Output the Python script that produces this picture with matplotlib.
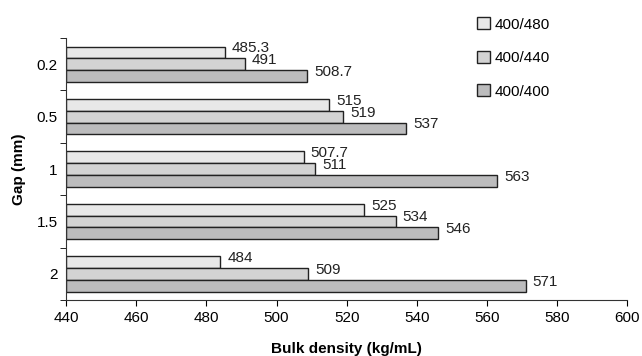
import matplotlib.pyplot as plt
import numpy as np

plt.rcParams['font.family'] = ['Liberation Sans', 'DejaVu Sans']

gaps = ['0.2', '0.5', '1', '1.5', '2']
series_names = ['400/480', '400/440', '400/400']
vals_480 = [485.3, 515, 507.7, 525, 484]
vals_440 = [491, 519, 511, 534, 509]
vals_400 = [508.7, 537, 563, 546, 571]
labels_480 = ['485.3', '515', '507.7', '525', '484']
labels_440 = ['491', '519', '511', '534', '509']
labels_400 = ['508.7', '537', '563', '546', '571']

colors = ['#e8e8e8', '#d3d3d3', '#bcbcbd']

fig = plt.figure(figsize=(6.42, 3.56), dpi=100)
ax = fig.add_axes([0.103, 0.157, 0.874, 0.736])

y = np.arange(len(gaps))
h = 0.225
base = 440
series = [(vals_480, labels_480), (vals_440, labels_440), (vals_400, labels_400)]
for i, (vals, labs) in enumerate(series):
    pos = y + (i - 1) * h
    ax.barh(pos, np.array(vals) - base, left=base, height=h, color=colors[i],
            edgecolor='#222222', linewidth=1, label=series_names[i])
    for p, v, lab in zip(pos, vals, labs):
        ax.text(v + 2, p - 0.08, lab, va='center', ha='left', fontsize=11, color='#222222')

ax.set_xlim(440, 600)
ax.set_ylim(len(gaps) - 0.5, -0.5)
ax.set_xticks(np.arange(440, 601, 20))
ax.set_yticks(y)
ax.set_yticklabels(gaps)
ax.set_yticks(np.arange(-0.5, len(gaps), 1), minor=True)
ax.tick_params(axis='y', which='major', length=0, labelsize=11, pad=6)
ax.tick_params(axis='y', which='minor', length=4, direction='out')
ax.tick_params(axis='x', length=4, labelsize=11, direction='out', pad=4)
for s in ['top', 'right']:
    ax.spines[s].set_visible(False)
for s in ['left', 'bottom']:
    ax.spines[s].set_color('#333333')
ax.set_xlabel('Bulk density (kg/mL)', fontweight='bold', fontsize=11, labelpad=12)
ax.set_ylabel('Gap (mm)', fontweight='bold', fontsize=11, labelpad=8)

fig.legend(loc='upper left', bbox_to_anchor=(0.722, 0.99), frameon=False, fontsize=11,
           labelspacing=1.25, handlelength=0.85, handleheight=0.85, handletextpad=0.3)

fig.savefig('out.png', dpi=100)
